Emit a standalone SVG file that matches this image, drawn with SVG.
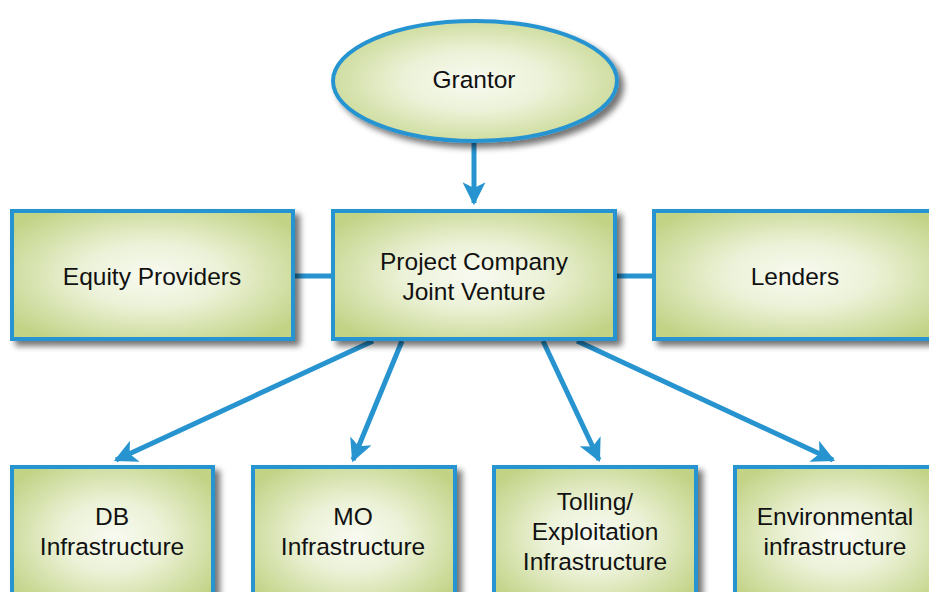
<svg xmlns="http://www.w3.org/2000/svg" width="929" height="592" viewBox="0 0 929 592">
<defs>
<radialGradient id="g" cx="50%" cy="50%" r="62%">
<stop offset="0" stop-color="#f8faf1"/>
<stop offset="0.4" stop-color="#ecf2d8"/>
<stop offset="1" stop-color="#c2d386"/>
</radialGradient>
<filter id="sh" x="-10%" y="-10%" width="130%" height="130%">
<feGaussianBlur in="SourceAlpha" stdDeviation="3"/>
<feOffset dx="5" dy="5" result="b"/>
<feComponentTransfer><feFuncA type="linear" slope="0.55"/></feComponentTransfer>
<feMerge><feMergeNode/><feMergeNode in="SourceGraphic"/></feMerge>
</filter>
<marker id="ah" viewBox="0 0 10 10" refX="9" refY="5" markerWidth="5.4" markerHeight="4.6" orient="auto" markerUnits="strokeWidth">
<path d="M0,0 L10,5 L0,10 L2.5,5 Z" fill="#2794d0"/>
</marker>
</defs>
<style>
.n{fill:url(#g);stroke:#2794d0;stroke-width:4;filter:url(#sh)}
.t{font-family:"Liberation Sans",Arial,sans-serif;font-size:24.5px;fill:#111;text-anchor:middle}
.c{stroke:#2794d0;stroke-width:5;fill:none}
</style>
<rect width="929" height="592" fill="#ffffff"/>
<g id="connectors">
<line class="c" x1="293" y1="276" x2="334" y2="276"/>
<line class="c" x1="615" y1="276" x2="655" y2="276"/>
<line class="c" x1="474" y1="141" x2="474" y2="203" marker-end="url(#ah)"/>
<line class="c" x1="373" y1="341" x2="116" y2="460" marker-end="url(#ah)"/>
<line class="c" x1="402" y1="341" x2="353" y2="460" marker-end="url(#ah)"/>
<line class="c" x1="543" y1="341" x2="599" y2="460" marker-end="url(#ah)"/>
<line class="c" x1="577" y1="341" x2="833" y2="460" marker-end="url(#ah)"/>
</g>
<g id="grantor">
<ellipse class="n" cx="475" cy="81" rx="142" ry="60"/>
<text class="t" x="474" y="88">Grantor</text>
</g>
<g id="equity">
<rect class="n" x="12" y="211" width="281" height="128"/>
<text class="t" x="152" y="285">Equity Providers</text>
</g>
<g id="project">
<rect class="n" x="333" y="211" width="282" height="128"/>
<text class="t" x="474" y="270">Project Company</text>
<text class="t" x="474" y="300">Joint Venture</text>
</g>
<g id="lenders">
<rect class="n" x="654" y="211" width="290" height="128"/>
<text class="t" x="795" y="285">Lenders</text>
</g>
<g id="db">
<rect class="n" x="12" y="467" width="201" height="140"/>
<text class="t" x="112" y="525">DB</text>
<text class="t" x="112" y="555">Infrastructure</text>
</g>
<g id="mo">
<rect class="n" x="253" y="467" width="202" height="140"/>
<text class="t" x="353" y="525">MO</text>
<text class="t" x="353" y="555">Infrastructure</text>
</g>
<g id="tolling">
<rect class="n" x="494" y="467" width="202" height="140"/>
<text class="t" x="595" y="510">Tolling/</text>
<text class="t" x="595" y="540">Exploitation</text>
<text class="t" x="595" y="570">Infrastructure</text>
</g>
<g id="environmental">
<rect class="n" x="735" y="467" width="210" height="140"/>
<text class="t" x="835" y="525">Environmental</text>
<text class="t" x="835" y="555">infrastructure</text>
</g>
</svg>
